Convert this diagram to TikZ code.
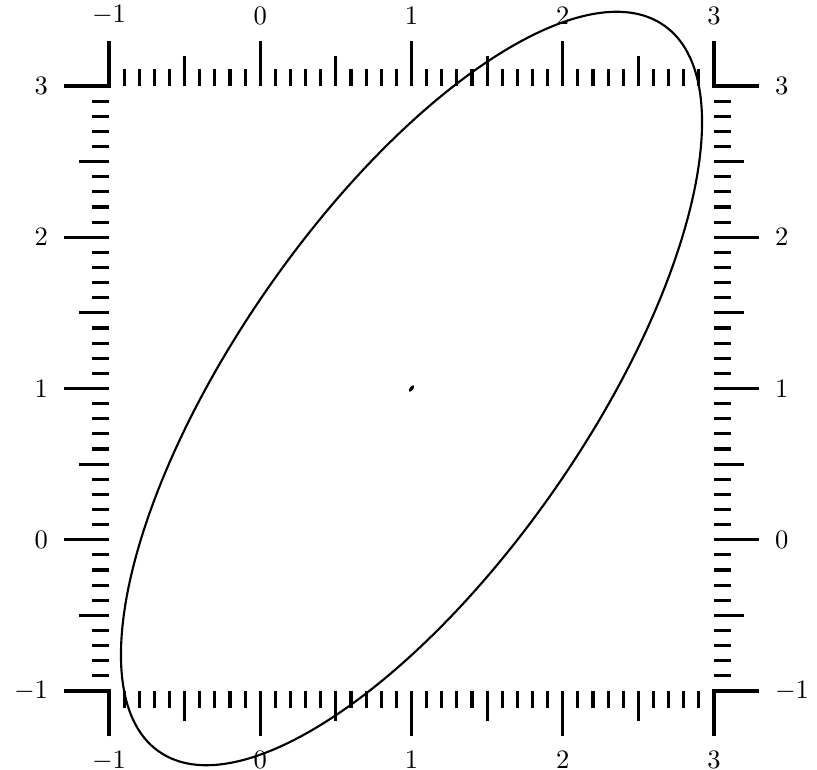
\documentclass[tikz,border=0pt]{standalone}
\begin{document}
\begin{tikzpicture}[scale=2,
  tick/.style={line width=1.2pt},
  curve/.style={line width=0.8pt},
  lab/.style={inner sep=0pt}]
\useasboundingbox (-1.7207,-1.5223) rectangle (3.681,3.5686);
\foreach \i in {1,...,39}{
  \pgfmathsetmacro\p{-1+\i/10}
  \pgfmathsetmacro\L{ifthenelse(mod(\i,10)==0,0.3,ifthenelse(mod(\i,5)==0,0.2,0.115))}
  \draw[tick] (\p,3) -- ++(0,\L);
  \draw[tick] (\p,-1) -- ++(0,-\L);
  \draw[tick] (-1,\p) -- ++(-\L,0);
  \draw[tick] (3,\p) -- ++(\L,0);
}
\draw[tick] (-1,3.3) -- (-1,3) -- (-1.3,3);
\draw[tick] (3,3.3) -- (3,3) -- (3.3,3);
\draw[tick] (-1,-1.3) -- (-1,-1) -- (-1.3,-1);
\draw[tick] (3,-1.3) -- (3,-1) -- (3.3,-1);
\foreach \v/\t in {-1/$-1$,0/$0$,1/$1$,2/$2$,3/$3$}{
  \node[lab,anchor=south] (top\v) at (\v,3.4) {\t};
  \node[lab,anchor=north] (bot\v) at (\v,-1.395) {\t};
  \node[lab,anchor=east] (left\v) at (-1.4,\v) {\t};
  \node[lab,anchor=west] (right\v) at (3.4,\v) {\t};
}
\draw[curve,rotate around={55.2:(1,1)}] (1,1) ellipse [x radius=2.924, y radius=1.158];
\fill[rotate around={55.2:(1,1)}] (1,1) ellipse [x radius=0.025, y radius=0.012];
\end{tikzpicture}
\end{document}
